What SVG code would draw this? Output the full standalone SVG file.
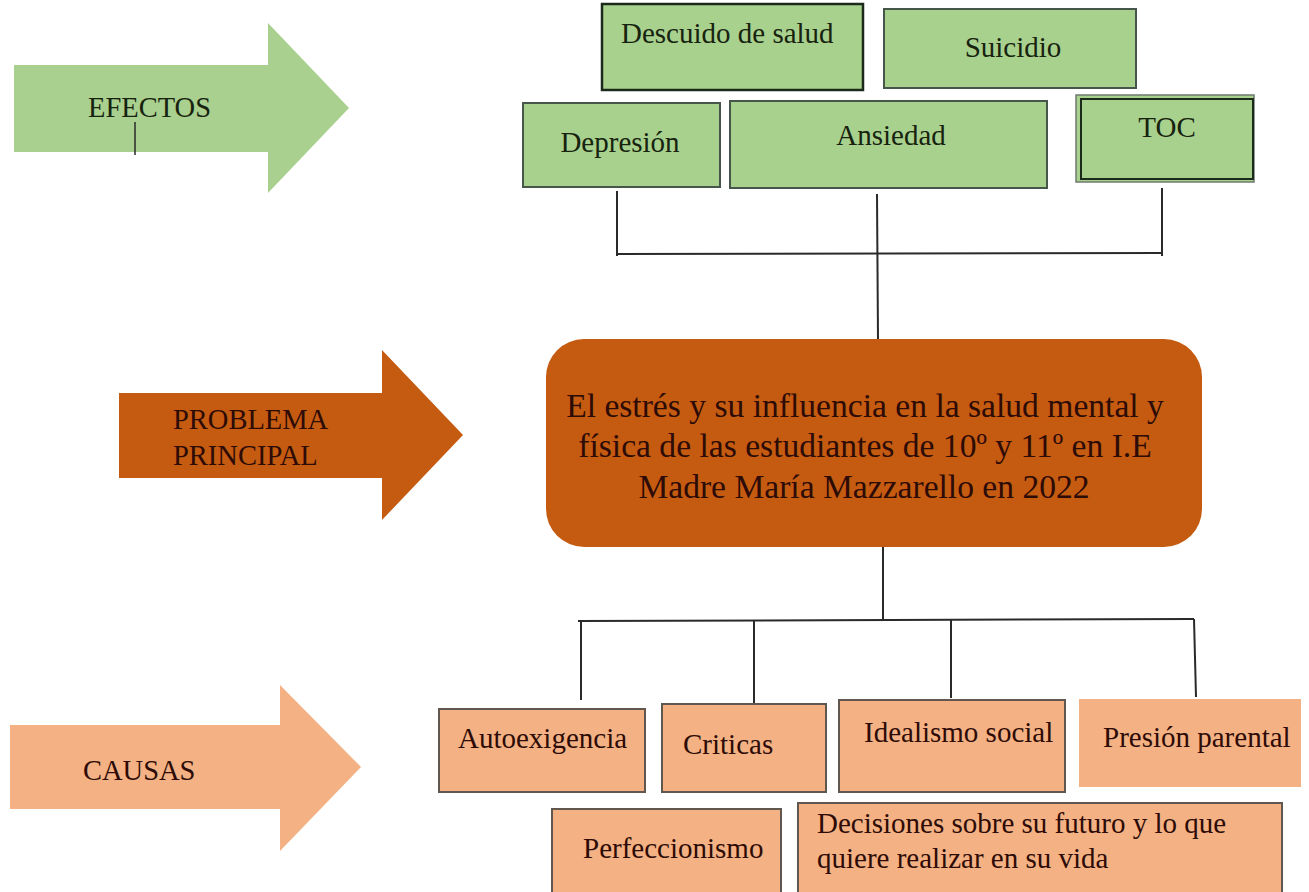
<svg xmlns="http://www.w3.org/2000/svg" width="1309" height="892" viewBox="0 0 1309 892">
<style>
  text { font-family: "Liberation Serif", "Times New Roman", serif; font-size: 29px; }
  text.arrow-label { font-size: 28.5px; }
  text.main-label { font-size: 33.6px; }
  .green { fill: #a9d18e; stroke: #46564a; stroke-width: 2; }
  .green-arrow { fill: #a9d08e; }
  .dark-orange { fill: #c55a11; }
  .light-orange { fill: #f4b183; stroke: #62574f; stroke-width: 2; }
  .light-orange-arrow { fill: #f4b183; }
  .t-green { fill: #17230f; }
  .t-brown { fill: #2d0b06; }
  .conn line { stroke: #2a2a2a; stroke-width: 2; fill: none; }
</style>
<rect width="1309" height="892" fill="#ffffff"/>

<!-- Side arrows -->
<g id="arrow-efectos">
  <polygon class="green-arrow" points="14,65 268,65 268,23 349,108 268,193 268,152 14,152"/>
  <text class="t-green arrow-label" x="88" y="117">EFECTOS</text>
  <line x1="135" y1="122" x2="135" y2="155" stroke="#2a2a2a" stroke-width="1.5"/>
</g>
<g id="arrow-problema">
  <polygon class="dark-orange" points="119,393 382,393 382,350 463,435 382,520 382,478 119,478"/>
  <text class="t-brown arrow-label" x="173" y="429">PROBLEMA</text>
  <text class="t-brown arrow-label" x="173" y="465">PRINCIPAL</text>
</g>
<g id="arrow-causas">
  <polygon class="light-orange-arrow" points="10,725 280,725 280,685 361,767 280,851 280,809 10,809"/>
  <text class="t-brown arrow-label" x="83" y="780">CAUSAS</text>
</g>

<!-- Connectors -->
<g id="connectors" class="conn">
  <line x1="617" y1="191" x2="617" y2="256"/>
  <line x1="617" y1="254" x2="1162" y2="253"/>
  <line x1="1162" y1="188" x2="1162" y2="256"/>
  <line x1="877" y1="194" x2="878" y2="339"/>
  <line x1="883" y1="547" x2="883" y2="620"/>
  <line x1="578" y1="621" x2="1194" y2="619"/>
  <line x1="581" y1="621" x2="581" y2="700"/>
  <line x1="754" y1="620" x2="754" y2="703"/>
  <line x1="951" y1="620" x2="951" y2="698"/>
  <line x1="1194" y1="619" x2="1196" y2="697"/>
</g>

<!-- Effects -->
<g id="descuido">
  <rect x="602" y="4" width="261" height="86" fill="#a9d18e" stroke="#1c2a1c" stroke-width="2.5"/>
  <text class="t-green" x="621" y="43">Descuido de salud</text>
</g>
<g id="suicidio">
  <rect class="green" x="884" y="9" width="252" height="79"/>
  <text class="t-green" x="1013" y="57" text-anchor="middle">Suicidio</text>
</g>
<g id="depresion">
  <rect class="green" x="523" y="103" width="197" height="84"/>
  <text class="t-green" x="620" y="152" text-anchor="middle">Depresión</text>
</g>
<g id="ansiedad">
  <rect class="green" x="730" y="101" width="317" height="87"/>
  <text class="t-green" x="891" y="145" text-anchor="middle">Ansiedad</text>
</g>
<g id="toc">
  <rect x="1076" y="95" width="178" height="87" fill="#a9d18e" stroke="#6f7a70" stroke-width="1.5"/>
  <rect x="1081" y="99" width="172" height="80" fill="none" stroke="#1c2a1c" stroke-width="2"/>
  <text class="t-green" x="1167" y="137" text-anchor="middle">TOC</text>
</g>

<!-- Main problem -->
<g id="problema">
  <rect class="dark-orange" x="546" y="339" width="656" height="208" rx="38" ry="38"/>
  <text class="t-brown main-label" x="865" y="417" text-anchor="middle">El estrés y su influencia en la salud mental y</text>
  <text class="t-brown main-label" x="865" y="457" text-anchor="middle">física de las estudiantes de 10º y 11º en I.E</text>
  <text class="t-brown main-label" x="864" y="498" text-anchor="middle">Madre María Mazzarello en 2022</text>
</g>

<!-- Causes -->
<g id="autoexigencia">
  <rect class="light-orange" x="439" y="709" width="206" height="83"/>
  <text class="t-brown" x="458" y="748">Autoexigencia</text>
</g>
<g id="criticas">
  <rect class="light-orange" x="662" y="704" width="164" height="88"/>
  <text class="t-brown" x="683" y="754">Criticas</text>
</g>
<g id="idealismo">
  <rect class="light-orange" x="839" y="700" width="226" height="92"/>
  <text class="t-brown" x="864" y="742">Idealismo social</text>
</g>
<g id="presion">
  <rect x="1079" y="699" width="222" height="88" fill="#f4b183"/>
  <text class="t-brown" x="1103" y="747">Presión parental</text>
</g>
<g id="perfeccionismo">
  <rect class="light-orange" x="552" y="809" width="229" height="90"/>
  <text class="t-brown" x="583" y="858">Perfeccionismo</text>
</g>
<g id="decisiones">
  <rect class="light-orange" x="798" y="803" width="484" height="96"/>
  <text class="t-brown" x="817" y="833">Decisiones sobre su futuro y lo que</text>
  <text class="t-brown" x="817" y="868">quiere realizar en su vida</text>
</g>
</svg>
